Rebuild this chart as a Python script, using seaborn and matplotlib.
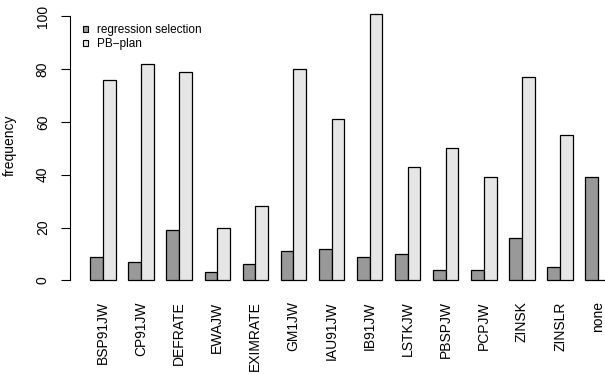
import seaborn as sns
import matplotlib.pyplot as plt
import pandas as pd
from matplotlib.patches import Patch

variables = ['BSP91JW', 'CP91JW', 'DEFRATE', 'EWAJW', 'EXIMRATE', 'GM1JW', 'IAU91JW',
             'IB91JW', 'LSTKJW', 'PBSPJW', 'PCPJW', 'ZINSK', 'ZINSLR', 'none']
regression_selection = [9, 7, 19, 3, 6, 11, 12, 9, 10, 4, 4, 16, 5, 39]
pb_plan = [76, 82, 79, 20, 28, 80, 61, 101, 43, 50, 39, 77, 55, 0]
methods = ['regression selection', 'PB\u2212plan']

df = pd.DataFrame({
    'variable': variables * 2,
    'frequency': regression_selection + pb_plan,
    'method': [methods[0]] * len(variables) + [methods[1]] * len(variables),
})

sns.set_style('white')
plt.rcParams['font.family'] = ['Liberation Sans', 'DejaVu Sans']
plt.rcParams['text.color'] = 'black'
plt.rcParams['xtick.color'] = 'black'
plt.rcParams['ytick.color'] = 'black'

fig = plt.figure(figsize=(6.05, 3.74), dpi=100)
W, H = 605, 374
ax = fig.add_axes([70 / W, 1 - 291 / H, (605 - 70) / W, (291 - 3) / H])

sns.barplot(data=df, x='variable', y='frequency', hue='method', order=variables,
            hue_order=methods, palette=['#999999', '#e6e6e6'], width=2 / 3,
            edgecolor='black', linewidth=0.9, saturation=1, ax=ax, legend=False)

ax.set_xlim(-0.866, 13.18)
ax.set_ylim(-4.04, 105.04)
for s in ['top', 'right', 'bottom']:
    ax.spines[s].set_visible(False)
ax.spines['left'].set_bounds(0, 100)
ax.spines['left'].set_color('black')
ax.spines['left'].set_linewidth(0.8)
ax.set_yticks([0, 20, 40, 60, 80, 100])
ax.tick_params(axis='y', length=6.5, width=0.8, labelsize=10, pad=8, left=True)
plt.setp(ax.get_yticklabels(), rotation=90, va='center')
ax.tick_params(axis='x', length=0, labelsize=10, pad=7.5)
plt.setp(ax.get_xticklabels(), rotation=90, ha='center', va='top')
ax.set_xlabel('')
ax.set_ylabel('')
fig.text(10 / W, 1 - 145 / H, 'frequency', rotation=90, ha='center', va='center', fontsize=10)

handles = [Patch(facecolor='#999999', edgecolor='black', linewidth=0.8),
           Patch(facecolor='#e6e6e6', edgecolor='black', linewidth=0.8)]
ax.legend(handles, methods, loc='upper left', bbox_to_anchor=(13 / 535, 1 - 21 / 288),
          frameon=False, fontsize=8.5, handlelength=0.45, handleheight=0.45,
          handletextpad=0.75, labelspacing=0.2, borderpad=0, borderaxespad=0)

fig.savefig('out.png', dpi=100)
